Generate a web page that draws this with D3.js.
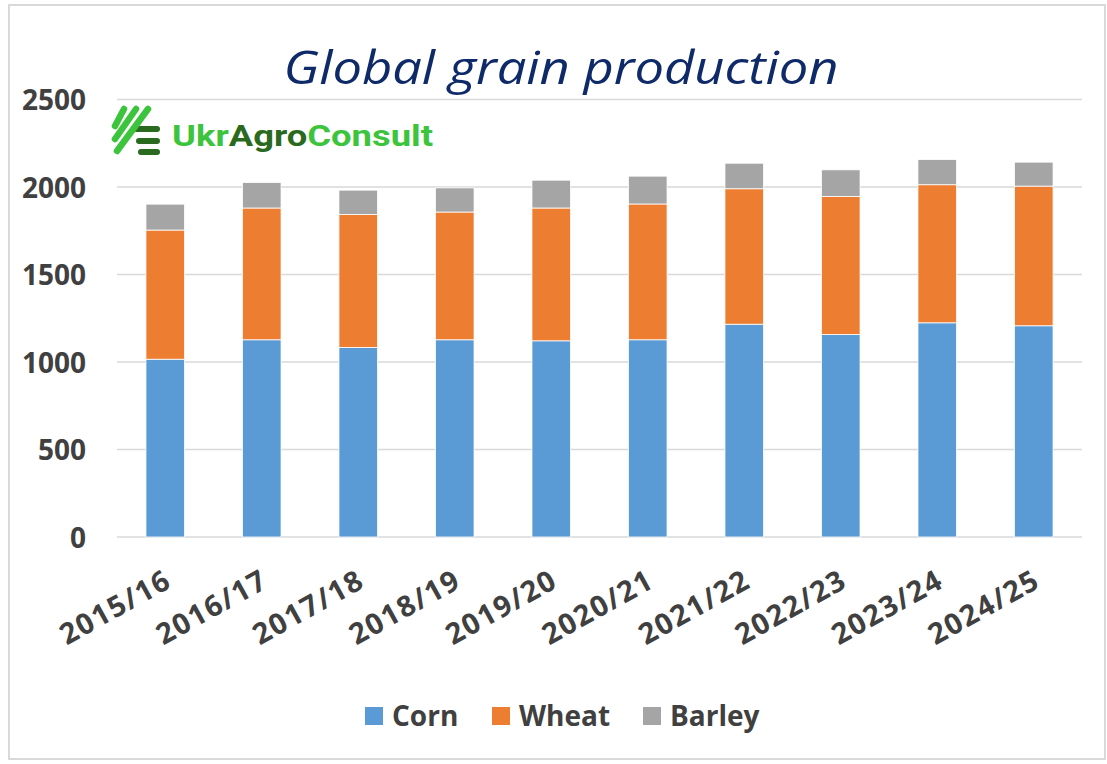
<!DOCTYPE html>
<html>
<head>
<meta charset="utf-8">
<script src="https://cdn.jsdelivr.net/npm/d3@7"></script>
<style>
  body{margin:0;background:#fff;}
  svg{display:block;}
</style>
</head>
<body>
<svg id="chart"></svg>
<script>
// data
var seasons=["2015/16","2016/17","2017/18","2018/19","2019/20","2020/21","2021/22","2022/23","2023/24","2024/25"];
var corn=[1016,1127,1083,1127,1121,1127,1216,1157,1224,1207];
var wheat=[738,753,760,730,759,776,774,789,789,798];
var barley=[148,146,139,138,159,159,146,152,144,137];
var seriesNames=["Corn","Wheat","Barley"];
var seriesColors=["#5b9bd5","#ed7d31","#a5a5a5"];
var yTicks=[0,500,1000,1500,2000,2500];

var W=1107,H=764;
var svg=d3.select("#chart").attr("width",W).attr("height",H);
var FONT="'Open Sans','Noto Sans',sans-serif";
var TXT="#404040";

// chart border
svg.append("rect").attr("x",9).attr("y",5).attr("width",1096).attr("height",754)
    .attr("fill","#fff").attr("stroke","#d9d9d9").attr("stroke-width",2);

var x=d3.scaleBand().domain(seasons).range([117,1082]).paddingInner(0.6).paddingOuter(0.3);
var y=d3.scaleLinear().domain([0,2500]).range([537,99.5]);

// grid
svg.append("g").attr("class","grid").selectAll("line").data(yTicks).enter().append("line")
    .attr("x1",117).attr("x2",1082)
    .attr("y1",function(d){return y(d)}).attr("y2",function(d){return y(d)})
    .attr("stroke","#d9d9d9").attr("stroke-width",1.5);

// y axis labels
var yAxis=d3.axisLeft(y).tickValues(yTicks).tickSize(0).tickPadding(0).tickFormat(d3.format("d"));
var ya=svg.append("g").attr("transform","translate(86,0)").call(yAxis);
ya.select(".domain").remove();
ya.selectAll("text").attr("font-family",FONT).attr("font-size",28).attr("font-weight",700)
    .attr("fill",TXT).attr("dy","0.36em");

// stacked bars
var table=seasons.map(function(s,i){return {season:s,Corn:corn[i],Wheat:wheat[i],Barley:barley[i]}});
var stack=d3.stack().keys(seriesNames)(table);
var layers=svg.append("g").attr("class","bars").selectAll("g").data(stack).enter().append("g")
    .attr("fill",function(d,i){return seriesColors[i]});
layers.selectAll("rect").data(function(d){return d}).enter().append("rect")
    .attr("x",function(d){return x(d.data.season)})
    .attr("width",x.bandwidth())
    .attr("y",function(d){return y(d[1])})
    .attr("height",function(d){return y(d[0])-y(d[1])})
    .attr("stroke","#fff").attr("stroke-width",0.8);

// x labels, rotated
var xAxis=d3.axisBottom(x).tickSize(0).tickPadding(0);
var xa=svg.append("g").attr("transform","translate(0,568)").call(xAxis);
xa.select(".domain").remove();
xa.selectAll("text").attr("font-family",FONT).attr("font-size",29).attr("font-weight",700)
    .attr("fill",TXT).attr("text-anchor","end").attr("dy","0.72em").attr("letter-spacing","1.5px")
    .attr("transform","translate(-2,0) rotate(-29)");

// title
svg.append("text").attr("x",561).attr("y",84).attr("text-anchor","middle")
    .attr("font-family",FONT).attr("font-style","italic").attr("font-size",46)
    .attr("fill","#0f2a68").attr("textLength",555).attr("lengthAdjust","spacingAndGlyphs")
    .text("Global grain production");

// logo
var logo=svg.append("g").attr("class","logo");
var bars=[[136,129],[139,141],[141,152]];
logo.selectAll("line.h").data(bars).enter().append("line")
    .attr("x1",function(d){return d[0]}).attr("x2",157)
    .attr("y1",function(d){return d[1]}).attr("y2",function(d){return d[1]})
    .attr("stroke","#2a6a1e").attr("stroke-width",6).attr("stroke-linecap","round");
var stripes=[[115,126,124,109],[115,139,136,109],[117,151,148,109]];
logo.selectAll("line.d").data(stripes).enter().append("line")
    .attr("x1",function(d){return d[0]}).attr("y1",function(d){return d[1]})
    .attr("x2",function(d){return d[2]}).attr("y2",function(d){return d[3]})
    .attr("stroke","#3cc43c").attr("stroke-width",6.5).attr("stroke-linecap","round");
var lt=logo.append("text").attr("x",172).attr("y",146)
    .attr("font-family","Roboto,'Open Sans',sans-serif").attr("font-weight",700).attr("font-size",29)
    .attr("textLength",261).attr("lengthAdjust","spacingAndGlyphs");
lt.append("tspan").attr("fill","#3cc43c").text("Ukr");
lt.append("tspan").attr("fill","#2a6a1e").text("Agro");
lt.append("tspan").attr("fill","#3cc43c").text("Consult");

// legend
var legX=[365,492,643];
var leg=svg.append("g").attr("class","legend").selectAll("g").data(seriesNames).enter().append("g")
    .attr("transform",function(d,i){return "translate("+legX[i]+",716)"});
leg.append("rect").attr("x",0).attr("y",-9).attr("width",18).attr("height",18)
    .attr("fill",function(d,i){return seriesColors[i]});
leg.append("text").attr("x",27).attr("y",0).attr("dy","0.36em")
    .attr("font-family",FONT).attr("font-size",28).attr("font-weight",700).attr("fill",TXT)
    .text(function(d){return d});
</script>
</body>
</html>
